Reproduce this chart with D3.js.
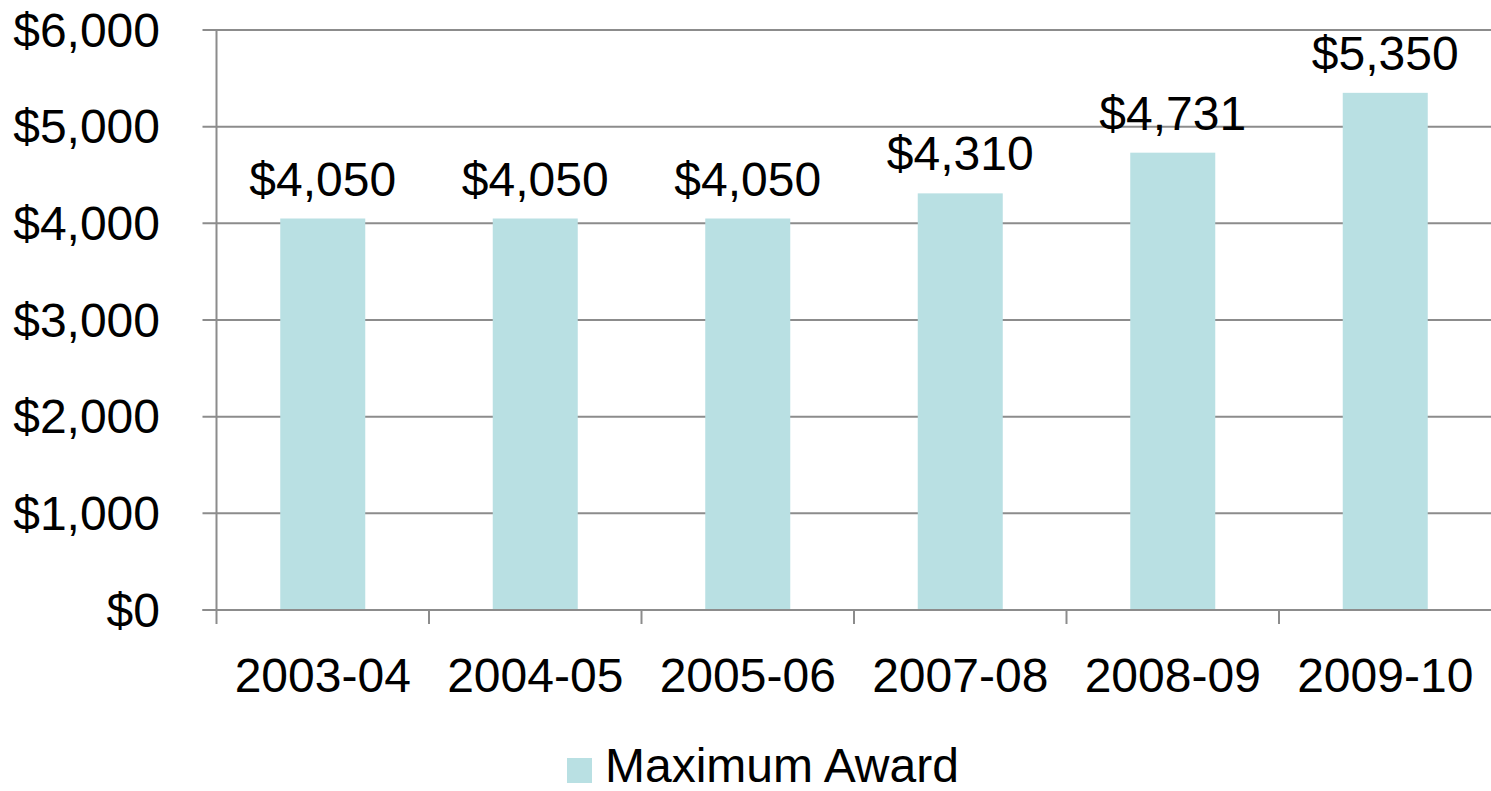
<!DOCTYPE html>
<html>
<head>
<meta charset="utf-8">
<script src="https://cdn.jsdelivr.net/npm/d3@7"></script>
<style>
  body { margin: 0; background: #fff; }
  svg text { font-family: "Liberation Sans", Arial, sans-serif; fill: #000; }
</style>
</head>
<body>
<svg id="chart" width="1491" height="791"></svg>
<script>
var years = ["2003-04", "2004-05", "2005-06", "2007-08", "2008-09", "2009-10"];
var maxAward = [4050, 4050, 4050, 4310, 4731, 5350];
var yTicks = [0, 1000, 2000, 3000, 4000, 5000, 6000];
var seriesName = "Maximum Award";

var barColor = "#b9e0e3";
var lineColor = "#8c8c8c";
var fontSize = "48px";

var svg = d3.select("#chart");
var plotLeft = 216.5, plotRight = 1491.5, plotTop = 30, plotBottom = 610;

var x = d3.scaleBand()
	.domain(years)
	.range([plotLeft, plotRight])
	.paddingInner(0.6)
	.paddingOuter(0.3);

var y = d3.scaleLinear()
	.domain([0, 6000])
	.range([plotBottom, plotTop]);

var fmt = function(v){ return "$" + d3.format(",")(v); };

// gridlines
svg.append("g")
	.selectAll("line")
	.data(yTicks)
	.enter()
	.append("line")
	.attr("x1", plotLeft - 14)
	.attr("x2", plotRight)
	.attr("y1", function(d){ return y(d); })
	.attr("y2", function(d){ return y(d); })
	.attr("stroke", lineColor)
	.attr("stroke-width", 2);

// y axis line
svg.append("line")
	.attr("x1", plotLeft).attr("x2", plotLeft)
	.attr("y1", plotTop).attr("y2", plotBottom)
	.attr("stroke", lineColor)
	.attr("stroke-width", 2);

// y labels
svg.append("g")
	.selectAll("text")
	.data(yTicks)
	.enter()
	.append("text")
	.attr("x", 160)
	.attr("y", function(d){ return y(d); })
	.attr("dy", "0.35em")
	.attr("text-anchor", "end")
	.style("font-size", fontSize)
	.text(fmt);

// x ticks between categories
var step = x.step();
var tickPos = d3.range(years.length).map(function(i){ return plotLeft + i * step; });
svg.append("g")
	.selectAll("line")
	.data(tickPos)
	.enter()
	.append("line")
	.attr("x1", function(d){ return d; })
	.attr("x2", function(d){ return d; })
	.attr("y1", plotBottom)
	.attr("y2", plotBottom + 14)
	.attr("stroke", lineColor)
	.attr("stroke-width", 2);

// bars
svg.append("g")
	.selectAll("rect")
	.data(maxAward)
	.enter()
	.append("rect")
	.attr("x", function(d, i){ return x(years[i]); })
	.attr("y", function(d){ return y(d); })
	.attr("width", x.bandwidth())
	.attr("height", function(d){ return plotBottom - y(d); })
	.attr("fill", barColor);

// baseline over bars
svg.append("line")
	.attr("x1", plotLeft - 14).attr("x2", plotRight)
	.attr("y1", plotBottom).attr("y2", plotBottom)
	.attr("stroke", lineColor)
	.attr("stroke-width", 2);

// value labels
svg.append("g")
	.selectAll("text")
	.data(maxAward)
	.enter()
	.append("text")
	.attr("x", function(d, i){ return x(years[i]) + x.bandwidth() / 2; })
	.attr("y", function(d){ return y(d) - 23; })
	.attr("text-anchor", "middle")
	.style("font-size", fontSize)
	.text(fmt);

// category labels
svg.append("g")
	.selectAll("text")
	.data(years)
	.enter()
	.append("text")
	.attr("x", function(d){ return x(d) + x.bandwidth() / 2; })
	.attr("y", 692)
	.attr("text-anchor", "middle")
	.style("font-size", fontSize)
	.text(function(d){ return d; });

// legend
var legend = svg.append("g").attr("transform", "translate(567,758)");
legend.append("rect")
	.attr("width", 25).attr("height", 25)
	.attr("fill", barColor);
legend.append("text")
	.attr("x", 38)
	.attr("y", 24)
	.style("font-size", fontSize)
	.text(seriesName);
</script>
</body>
</html>
